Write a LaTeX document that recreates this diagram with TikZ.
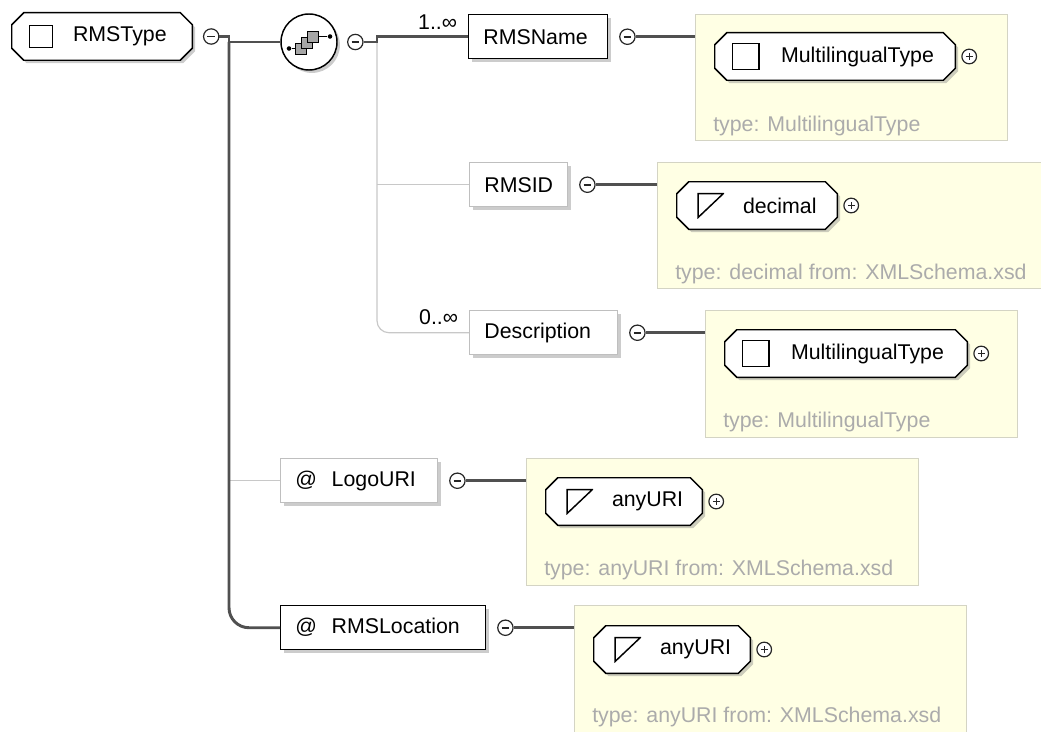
\documentclass[tikz,border=0pt]{standalone}
\usepackage{fontspec}
\setmainfont{Liberation Sans}
\usepackage{tikz}
\usetikzlibrary{positioning,shadows}

\definecolor{panelfill}{HTML}{FFFFE4}
\definecolor{panelline}{HTML}{D4D4C4}
\definecolor{captext}{HTML}{ABABAB}
\definecolor{linkdark}{HTML}{505050}
\definecolor{linklight}{HTML}{C8C8C8}

\tikzset{
  shdw/.style={drop shadow={shadow xshift=2.2pt, shadow yshift=-2.2pt, opacity=.4}},
  req/.style={draw=linkdark, line width=2.2pt},
  opt/.style={draw=linklight, line width=0.9pt},
  panel/.style={rectangle, draw=panelline, fill=panelfill, line width=0.9pt, anchor=north west, inner sep=0pt},
  ctype/.style={inner sep=0pt, minimum height=35.25pt,
    append after command={\pgfextra{
      \draw[black, line width=1.1pt, fill=white, shdw]
        ([xshift=9pt]\tikzlastnode.north west) -- ([xshift=-9pt]\tikzlastnode.north east)
        -- ([yshift=-9pt]\tikzlastnode.north east) -- ([yshift=9pt]\tikzlastnode.south east)
        -- ([xshift=-9pt]\tikzlastnode.south east) -- ([xshift=9pt]\tikzlastnode.south west)
        -- ([yshift=9pt]\tikzlastnode.south west) -- ([yshift=-9pt]\tikzlastnode.north west) -- cycle;}}},
  elemreq/.style={rectangle, draw=black, line width=1.1pt, fill=white, minimum height=33pt, inner xsep=11pt, align=left, anchor=north west, shdw},
  elemopt/.style={elemreq, draw=black!25},
  sqicon/.style={rectangle, draw=black, line width=1.1pt, minimum width=20pt, minimum height=19.5pt, inner sep=0pt},
  triicon/.style={rectangle, minimum width=20pt, minimum height=19pt, inner sep=0pt,
    path picture={\draw[line width=1.1pt] ([shift={(0.6pt,-0.6pt)}]path picture bounding box.north west) -- ([shift={(-0.6pt,-0.6pt)}]path picture bounding box.north east) -- ([shift={(0.6pt,0.6pt)}]path picture bounding box.south west) -- cycle;}},
  tname/.style={anchor=west, inner sep=0pt},
  typecap/.style={anchor=west, inner sep=0pt, text=captext},
  occ/.style={inner sep=0pt},
  collapse/.style={circle, draw=black!85, fill=white, line width=0.9pt, minimum size=11.5pt, inner sep=0pt,
    path picture={\draw[line width=1.2pt] ([xshift=-2.8pt]path picture bounding box.center) -- ([xshift=2.8pt]path picture bounding box.center);}},
  expand/.style={circle, draw=black!85, fill=white, line width=0.9pt, minimum size=11pt, inner sep=0pt,
    path picture={\draw[line width=1pt] ([xshift=-2.5pt]path picture bounding box.center) -- ([xshift=2.5pt]path picture bounding box.center)
      ([yshift=-2.5pt]path picture bounding box.center) -- ([yshift=2.5pt]path picture bounding box.center);}},
  seq/.style={circle, draw=black, line width=1.1pt, fill=white, minimum size=42pt, inner sep=0pt, shdw},
  seqsq/.style={rectangle, draw=black, fill=black!35, line width=0.6pt, minimum width=7.8pt, minimum height=8.2pt, inner sep=0pt},
  seqdot/.style={circle, fill=black, minimum size=3.4pt, inner sep=0pt}
}

\begin{document}
\begin{tikzpicture}[x=0.75pt, y=-0.75pt, font=\fontsize{16}{19}\selectfont]
\useasboundingbox (0,0) rectangle (1041,731);

% yellow type panels
\node[panel, minimum width=234pt, minimum height=94.5pt] (p1) at (695,14) {};
\node[panel, minimum width=300pt, minimum height=94.5pt] (p2) at (657,162) {};
\node[panel, minimum width=234pt, minimum height=95.25pt] (p3) at (705,310) {};
\node[panel, minimum width=294pt, minimum height=95.25pt] (p4) at (526,458) {};
\node[panel, minimum width=294pt, minimum height=97.5pt] (p5) at (574,605) {};

% root complex type
\node[ctype, minimum width=135pt] (rmstype) at (102,36.5) {};
\node[sqicon, minimum width=17pt, minimum height=16.5pt] (rmstypeicon) at ([xshift=22pt]rmstype.west) {};
\node[tname] (rmstypetxt) at ([xshift=45.75pt]rmstype.west) {RMSType};
\node[collapse, right=8pt of rmstype] (rmstypec) {};

% sequence compositor
\node[seq] (seq) at (309,42) {};
\foreach \i/\dx/\dy in {1/-8/6.5, 2/-2/1, 3/4/-5.5}
  \node[seqsq] (seqsq\i) at ([shift={(\dx,\dy)}]seq.center) {};
\node[seqdot] (seqin) at ([shift={(-20,6.5)}]seq.center) {};
\node[seqdot] (seqout) at ([shift={(21,-5.5)}]seq.center) {};
\draw[line width=0.8pt] (seqin) -- (seqsq1);
\draw[line width=0.8pt] (seqsq3) -- (seqout);
\node[collapse, right=7pt of seq] (seqc) {};

% child elements and attributes
\node[elemreq, text width=82.25pt] (rmsname) at (468,14) {RMSName};
\node[elemopt, text width=51.5pt] (rmsid) at (469,162) {RMSID};
\node[elemopt, text width=89pt] (desc) at (469,310) {Description};
\node[elemopt, text width=95.75pt] (logouri) at (280,458) {@\hspace{11pt}LogoURI};
\node[elemreq, text width=131.75pt] (rmsloc) at (280,605) {@\hspace{11pt}RMSLocation};
\foreach \e in {rmsname, rmsid, desc, logouri, rmsloc}
  \node[collapse, right=8pt of \e] (\e-c) {};

% occurrences
\node[occ, above left=5pt and 8pt of rmsname.west] (rmsnameocc) {1..∞};
\node[occ, above left=6pt and 8pt of desc.west] (descocc) {0..∞};

% tree links
\coordinate (fork1) at (229,42);
\coordinate (fork2) at (377,42);
\draw[opt] (fork1 |- logouri.west) -- (logouri.west);
\draw[opt, rounded corners=9pt] (fork2) |- (desc.west);
\draw[opt] (fork2 |- rmsid.west) -- (rmsid.west);
\draw[req] (rmstypec.east) -| (fork1);
\draw[req] (fork1) -- (seq.west);
\draw[req, rounded corners=15pt] (fork1) |- (rmsloc.west);
\draw[req] (seqc.east) -- (fork2) |- (rmsname.west);
\foreach \e/\p in {rmsname/p1, rmsid/p2, desc/p3, logouri/p4, rmsloc/p5}
  \draw[req] (\e-c.east) -- (\e-c.east -| \p.west);

% type boxes
\node[ctype, minimum width=180pt] (t1) at (835,56.5) {};
\node[sqicon] (t1icon) at ([xshift=23.25pt]t1.west) {};
\node[tname] (t1txt) at ([xshift=49.5pt]t1.west) {MultilingualType};
\node[expand, right=4.5pt of t1] (t1x) {};
\node[typecap] (p1cap) at ([shift={(18,112)}]p1.north west) {type: MultilingualType};

\node[ctype, minimum width=120pt] (t2) at (757,205.5) {};
\node[triicon] (t2icon) at ([xshift=25.5pt]t2.west) {};
\node[tname] (t2txt) at ([xshift=49.5pt]t2.west) {decimal};
\node[expand, right=4.5pt of t2] (t2x) {};
\node[typecap] (p2cap) at ([shift={(18,112)}]p2.north west) {type: decimal from: XMLSchema.xsd};

\node[ctype, minimum width=181.5pt] (t3) at (846,353.5) {};
\node[sqicon] (t3icon) at ([xshift=23.25pt]t3.west) {};
\node[tname] (t3txt) at ([xshift=49.5pt]t3.west) {MultilingualType};
\node[expand, right=4.5pt of t3] (t3x) {};
\node[typecap] (p3cap) at ([shift={(18,112)}]p3.north west) {type: MultilingualType};

\node[ctype, minimum width=117pt] (t4) at (624,501.5) {};
\node[triicon] (t4icon) at ([xshift=25.5pt]t4.west) {};
\node[tname] (t4txt) at ([xshift=49.5pt]t4.west) {anyURI};
\node[expand, right=4.5pt of t4] (t4x) {};
\node[typecap] (p4cap) at ([shift={(18,112)}]p4.north west) {type: anyURI from: XMLSchema.xsd};

\node[ctype, minimum width=117pt] (t5) at (672,649.5) {};
\node[triicon] (t5icon) at ([xshift=25.5pt]t5.west) {};
\node[tname] (t5txt) at ([xshift=49.5pt]t5.west) {anyURI};
\node[expand, right=4.5pt of t5] (t5x) {};
\node[typecap] (p5cap) at ([shift={(18,112)}]p5.north west) {type: anyURI from: XMLSchema.xsd};
\end{tikzpicture}
\end{document}
